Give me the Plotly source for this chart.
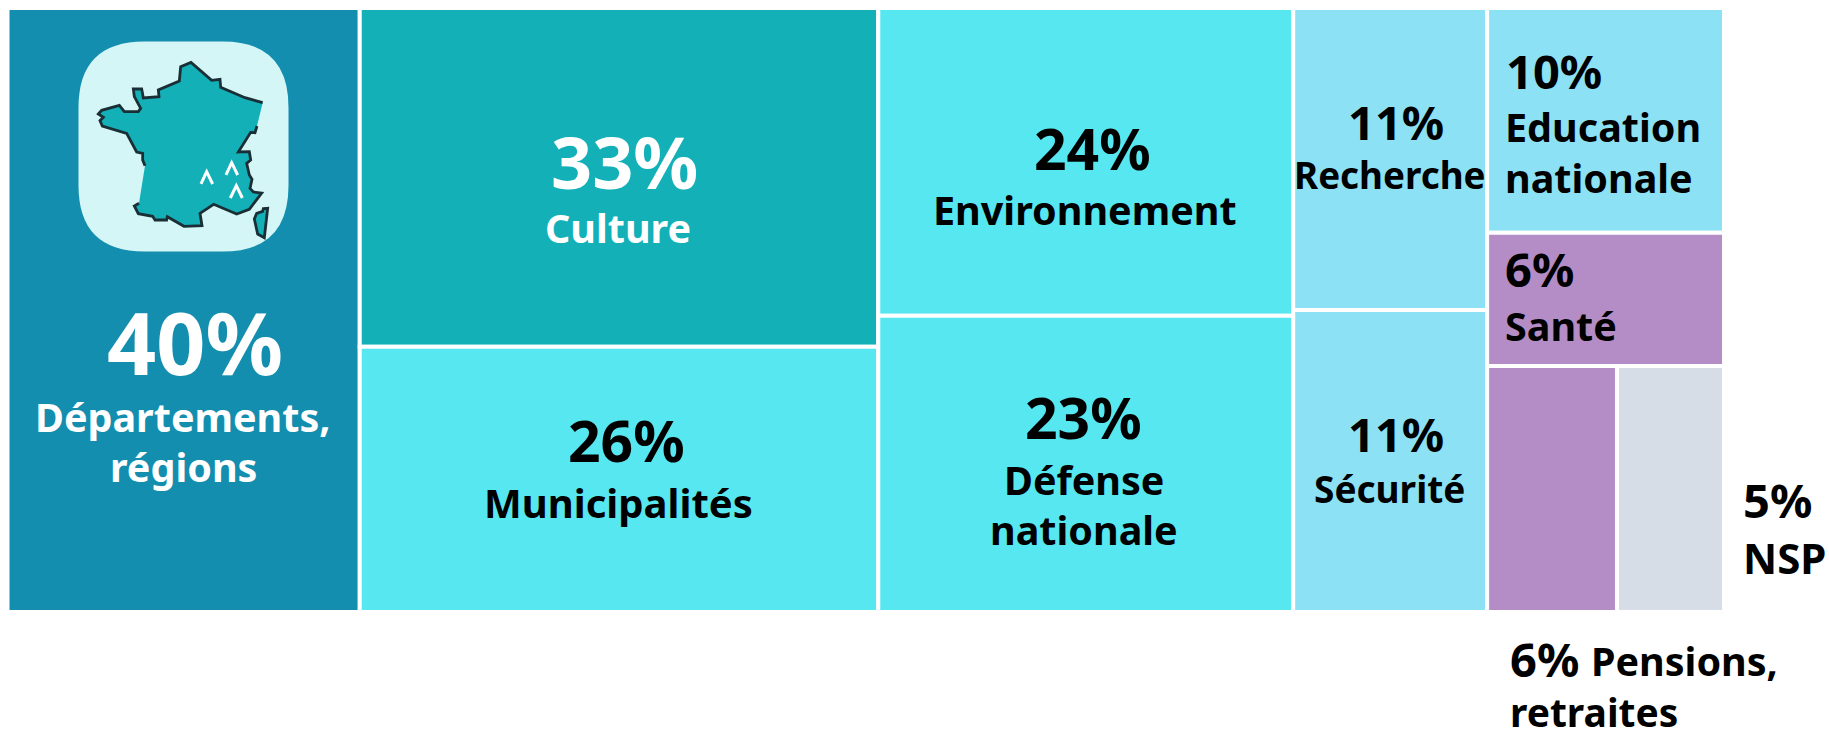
import plotly.graph_objects as go

W, H = 1829, 729
FONT = "Noto Sans"

# ---- data ----
ids = ["root", "c1", "c2", "c3", "c4", "c5",
       "Départements, régions", "Culture", "Municipalités", "Environnement",
       "Défense nationale", "Recherche", "Sécurité", "Education nationale",
       "Santé", "low", "Pensions, retraites", "NSP"]
parents = ["", "root", "root", "root", "root", "root",
           "c1", "c2", "c2", "c3", "c3", "c4", "c4", "c5", "c5", "c5", "low", "low"]
# tile sizes as read from the tile areas (labels show them rounded)
sizes = [0, 0, 0, 0, 0, 0,
         40.15, 33.15, 25.95, 24.1, 23.2, 11.05, 11.05, 10.05, 5.95, 0, 6.03, 4.97]
DEPT, CULT, CYAN, SKY, MAUVE, GREY, WHITE = ("#138eae", "#13b0b8", "#57e7f0", "#8ce1f5",
                                              "#b48dc7", "#d6dde7", "#ffffff")
colors = [WHITE] * 6 + [DEPT, CULT, CYAN, CYAN, CYAN, SKY, SKY, SKY, MAUVE, WHITE, MAUVE, GREY]

# text, centre x, centre y, size, colour, anchor
texts = [
    ("40%", 195, 341, 86, "white", "center"),
    ("Départements,", 183, 417, 39.5, "white", "center"),
    ("régions", 183, 467, 39.5, "white", "center"),
    ("33%", 624, 161, 72, "white", "center"),
    ("Culture", 618, 228, 39.5, "white", "center"),
    ("26%", 626, 440, 57, "black", "center"),
    ("Municipalités", 618, 502, 40, "black", "center"),
    ("24%", 1092, 148, 57, "black", "center"),
    ("Environnement", 1085, 210, 39.5, "black", "center"),
    ("23%", 1083, 417, 57, "black", "center"),
    ("Défense", 1084, 480, 39.5, "black", "center"),
    ("nationale", 1084, 530, 39.5, "black", "center"),
    ("11%", 1396, 122, 47, "black", "center"),
    ("Recherche", 1390, 175, 36.8, "black", "center"),
    ("11%", 1396, 434, 47, "black", "center"),
    ("Sécurité", 1389, 488, 37, "black", "center"),
    ("10%", 1504, 71, 47, "black", "left"),
    ("Education", 1503, 127, 39.5, "black", "left"),
    ("nationale", 1503, 178, 39.5, "black", "left"),
    ("6%", 1503, 269, 47, "black", "left"),
    ("Santé", 1503, 326, 39.5, "black", "left"),
    ("5%", 1741, 500, 47, "black", "left"),
    ("NSP", 1741, 557, 42, "black", "left"),
    ("6%", 1508, 659, 47, "black", "left"),
    ("Pensions,", 1589, 661, 39.5, "black", "left"),
    ("retraites", 1508, 711, 39, "black", "left"),
]

# icon outlines, in pixels x3 as measured on the picture
france_a = [(788,308),(735,293),(662,262),(660,238),(635,241),(573,187),(542,200),(538,243),(475,270),
            (477,290),(430,294),(425,267),(400,267),(403,290),(422,325),(415,335),(373,335),(358,316),
            (305,331),(295,342),(310,352),(300,362),(307,378),(380,400),(410,456),(428,460),(428,480),(435,497)]
france_b = [(417,610),(403,618),(415,641),(458,649),(465,660),(500,660),(502,650),(552,679),(606,677),
            (600,640),(641,613),(710,642),(748,628),(785,579),(760,576),(750,565),(756,538),(748,525),
            (740,490),(752,480),(748,455),(715,456),(752,397),(765,398),(771,378)]
corsica = [(790,626),(803,625),(793,713),(773,702),(763,657),(770,640),(788,634)]
carets = [[(603,552),(620,515),(638,552)], [(678,525),(695,488),(713,525)], [(691,594),(709,557),(727,594)]]


def path(pts, close=False):
    s = "M " + " L ".join(f"{x/3/W:.5f},{1-y/3/H:.5f}" for x, y in pts)
    return s + (" Z" if close else "")


def rounded(x0, y0, x1, y1, r):
    X = lambda v: v / W
    Y = lambda v: 1 - v / H
    return (f"M {X(x0+r)},{Y(y0)} L {X(x1-r)},{Y(y0)} Q {X(x1)},{Y(y0)} {X(x1)},{Y(y0+r)} "
            f"L {X(x1)},{Y(y1-r)} Q {X(x1)},{Y(y1)} {X(x1-r)},{Y(y1)} L {X(x0+r)},{Y(y1)} "
            f"Q {X(x0)},{Y(y1)} {X(x0)},{Y(y1-r)} L {X(x0)},{Y(y0+r)} Q {X(x0)},{Y(y0)} {X(x0+r)},{Y(y0)} Z")


fig = go.Figure(go.Treemap(
    ids=ids, labels=ids, parents=parents, values=sizes,
    branchvalues="remainder", sort=False, maxdepth=-1,
    textinfo="none", hoverinfo="label",
    marker=dict(colors=colors, line=dict(color="white", width=4), pad=dict(t=0, l=0, r=0, b=0), depthfade=False),
    tiling=dict(packing="slice-dice", pad=0),
    pathbar=dict(visible=False),
    root=dict(color="white"),
    domain=dict(x=[7.5 / W, 1724 / W], y=[1 - 612 / H, 1 - 8 / H]),
))

DARK = "#1a2e35"
ICON = "#d5f6f6"
shape = lambda p, **k: dict(type="path", path=p, xref="paper", yref="paper", layer="above", **k)
shapes = [
    shape(rounded(78.5, 41.5, 288.5, 251.5, 66), fillcolor=ICON, line=dict(width=0)),
    shape(path(france_a + france_b, True), fillcolor=CULT, line=dict(width=0)),
    shape(path(france_a), line=dict(color=DARK, width=2.8)),
    shape(path(france_b), line=dict(color=DARK, width=2.8)),
    shape(path(corsica, True), fillcolor=CULT, line=dict(color=DARK, width=2.8)),
] + [shape(path(c), line=dict(color="white", width=3)) for c in carets]

anns = [dict(text=f"<b>{t}</b>", x=x / W, y=1 - y / H, xref="paper", yref="paper", showarrow=False,
             xanchor=a, yanchor="middle", font=dict(family=FONT, size=s, color=c))
        for t, x, y, s, c, a in texts]

fig.update_layout(width=W, height=H, margin=dict(l=0, r=0, t=0, b=0), paper_bgcolor="white",
                  shapes=shapes, annotations=anns, showlegend=False)
fig.write_html("out.html", config=dict(displayModeBar=False),
               post_script="document.body.style.margin='0';document.body.style.overflow='hidden';")
